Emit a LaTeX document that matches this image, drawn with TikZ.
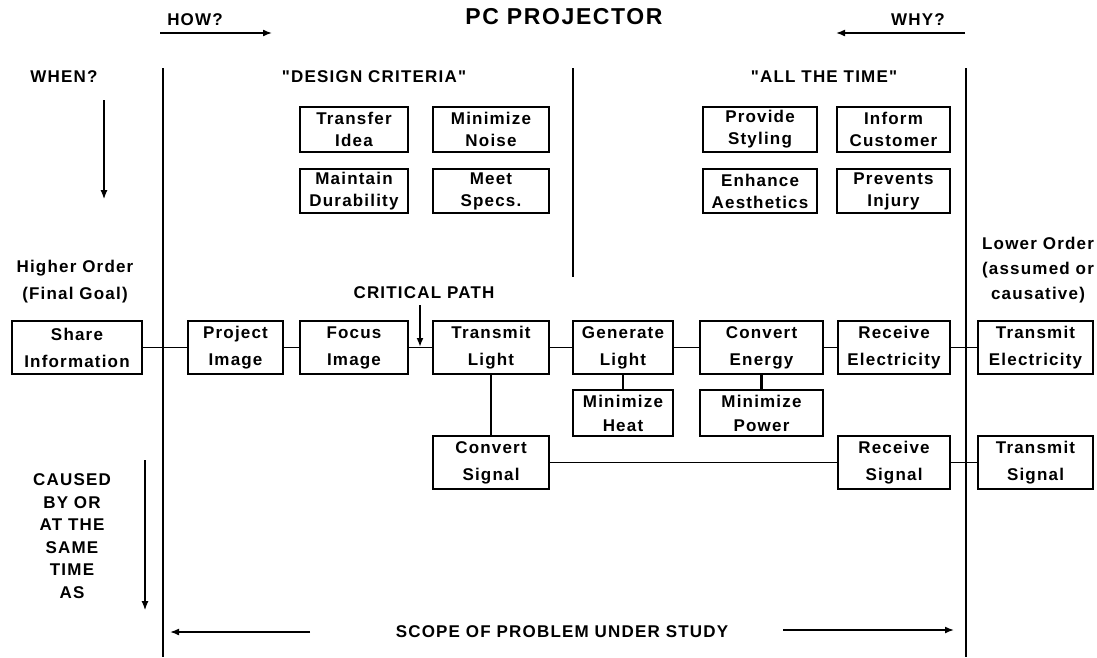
\documentclass[tikz,border=0pt]{standalone}
\usepackage{fontspec}
\setmainfont[LetterSpace=7,Ligatures=TeXOff]{Liberation Sans}
\usetikzlibrary{arrows.meta}

\tikzset{
  fbox/.style={draw,line width=1.2pt,align=center,inner sep=0pt,
    minimum height=53,font=\fontsize{17}{27}\selectfont\bfseries},
  tbox/.style={fbox,font=\fontsize{17}{22}\selectfont\bfseries},
  sbox/.style={fbox,font=\fontsize{17}{24}\selectfont\bfseries},
  lbl/.style={align=center,font=\fontsize{17}{25}\selectfont\bfseries},
  link/.style={line width=1.3pt},
  bar/.style={line width=2.6pt},
  pointer/.style={line width=1.6pt,-{Latex[length=9pt,width=7pt]}}
}

\begin{document}
\begin{tikzpicture}[x=1pt,y=-1pt]
  \useasboundingbox (0,0) rectangle (1097,657);
  % frame lines
  \coordinate (lt) at (163,68); \coordinate (lb) at (163,657);
  \coordinate (rt) at (966,68); \coordinate (rb) at (966,657);
  \coordinate (mt) at (573,68); \coordinate (mb) at (573,277);
  \draw[bar] (lt) -- (lb); \draw[bar] (rt) -- (rb);
  \draw[line width=1.2pt] (mt) -- (mb);
  % headings
  \node[font=\fontsize{23}{26}\selectfont\bfseries] (title) at (564,17) {PC PROJECTOR};
  \node[lbl] (how) at (195,20) {HOW?}; \node[lbl] (why) at (918,20) {WHY?};
  \coordinate (h1) at (160,33); \coordinate (h2) at (272,33);
  \coordinate (w1) at (965,33); \coordinate (w2) at (836,33);
  \draw[pointer] (h1) -- (h2); \draw[pointer] (w1) -- (w2);
  \node[lbl] (when) at (64,77) {WHEN?};
  \coordinate (n1) at (104,100); \coordinate (n2) at (104,199);
  \draw[pointer,line width=1.2pt] (n1) -- (n2);
  \node[lbl] (crit) at (374,77) {"DESIGN CRITERIA"};
  \node[lbl] (always) at (824,77) {"ALL THE TIME"};
  \node[lbl,font=\fontsize{17}{27}\selectfont\bfseries] (high) at (75,282) {Higher Order\\(Final Goal)};
  \node[lbl] (low) at (1038,270) {Lower Order\\(assumed or\\causative)};
  \node[lbl,font=\fontsize{17}{22.5}\selectfont\bfseries] (cause) at (72,536)
    {CAUSED\\BY OR\\AT THE\\SAME\\TIME\\AS};
  \coordinate (c1) at (145,460); \coordinate (c2) at (145,610);
  \draw[pointer,line width=1.2pt] (c1) -- (c2);
  \node[lbl] (scope) at (562,632) {SCOPE OF PROBLEM UNDER STUDY};
  \coordinate (s1) at (310,632); \coordinate (s2) at (170,632);
  \coordinate (s3) at (783,630); \coordinate (s4) at (954,630);
  \draw[pointer] (s1) -- (s2); \draw[pointer] (s3) -- (s4);
  % criteria boxes
  \node[tbox,minimum width=108,minimum height=45] (idea) at (354,129.5) {Transfer\\Idea};
  \node[tbox,minimum width=116,minimum height=45] (noise) at (491,129.5) {Minimize\\Noise};
  \node[tbox,minimum width=108,minimum height=44] (dura) at (354,191) {Maintain\\Durability};
  \node[tbox,minimum width=116,minimum height=44] (specs) at (491,191) {Meet\\Specs.};
  \node[tbox,minimum width=114,minimum height=45] (style) at (760,129.5) {Provide\\Styling};
  \node[tbox,minimum width=113,minimum height=45] (inform) at (893.5,129.5) {Inform\\Customer};
  \node[tbox,minimum width=114,minimum height=44] (aesth) at (760,191) {Enhance\\Aesthetics};
  \node[tbox,minimum width=113,minimum height=44] (injury) at (893.5,191) {Prevents\\Injury};
  % function boxes
  \node[fbox,minimum width=130] (share) at (77,347.5) {Share\\Information};
  \node[fbox,minimum width=95] (proj) at (235.5,347.5) {Project\\Image};
  \node[fbox,minimum width=108] (focus) at (354,347.5) {Focus\\Image};
  \node[fbox,minimum width=116] (tlight) at (491,347.5) {Transmit\\Light};
  \node[fbox,minimum width=100] (glight) at (623,347.5) {Generate\\Light};
  \node[fbox,minimum width=123] (energy) at (761.5,347.5) {Convert\\Energy};
  \node[fbox,minimum width=112] (relec) at (894,347.5) {Receive\\Electricity};
  \node[fbox,minimum width=115] (telec) at (1035.5,347.5) {Transmit\\Electricity};
  \node[sbox,minimum width=100,minimum height=46] (heat) at (623,413) {Minimize\\Heat};
  \node[sbox,minimum width=123,minimum height=46] (power) at (761.5,413) {Minimize\\Power};
  \node[fbox,minimum width=116] (csig) at (491,462.5) {Convert\\Signal};
  \node[fbox,minimum width=112] (rsig) at (894,462.5) {Receive\\Signal};
  \node[fbox,minimum width=115] (tsig) at (1035.5,462.5) {Transmit\\Signal};
  % connectors
  \draw[link] (share) -- (proj) -- (focus) -- (tlight) -- (glight) -- (energy) -- (relec) -- (telec);
  \draw[link] (tlight) -- (csig);
  \draw[link] (csig) -- (rsig) -- (tsig);
  \draw[bar] (glight) -- (heat); \draw[bar] (energy) -- (power);
  % critical path
  \node[lbl] (cpath) at (424,293) {CRITICAL PATH};
  \coordinate (p1) at (420,305); \coordinate (p2) at (420,347);
  \draw[pointer,line width=2pt] (p1) -- (p2);
\end{tikzpicture}
\end{document}
